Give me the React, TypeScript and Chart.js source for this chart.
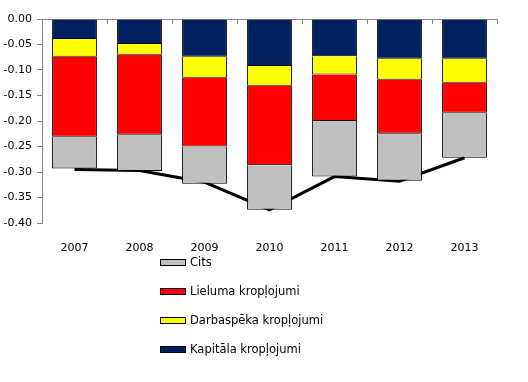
import React, { useEffect, useRef } from "react";
import { Chart, registerables } from "chart.js";

Chart.register(...registerables);

const years = ["2007", "2008", "2009", "2010", "2011", "2012", "2013"];
const kapitala = [-0.039, -0.049, -0.074, -0.092, -0.073, -0.078, -0.078];
const darbaspeka = [-0.035, -0.021, -0.041, -0.039, -0.036, -0.041, -0.047];
const lieluma = [-0.157, -0.157, -0.135, -0.156, -0.091, -0.106, -0.059];
const cits = [-0.062, -0.071, -0.073, -0.087, -0.109, -0.092, -0.088];
const total = [-0.295, -0.297, -0.32, -0.374, -0.309, -0.318, -0.272];

const seriesNames = ["Kapitāla kropļojumi", "Darbaspēka kropļojumi", "Lieluma kropļojumi", "Cits"];
const seriesData = [kapitala, darbaspeka, lieluma, cits];
const seriesColors = ["#002060", "#FFFF00", "#FF0000", "#C0C0C0"];

const FONT = "'DejaVu Sans', Verdana, sans-serif";
const AXIS = "#868686";

export default function App() {
  const ref = useRef<HTMLCanvasElement | null>(null);

  useEffect(() => {
    if (!ref.current) return;
    const chart = new Chart(ref.current, {
      type: "bar",
      data: {
        labels: years,
        datasets: [
          ...seriesData.map((d, i) => ({
            type: "bar" as const,
            label: seriesNames[i],
            data: d,
            backgroundColor: seriesColors[i],
            borderColor: "#000000",
            borderWidth: 1,
            stack: "bars",
            order: 1,
            barPercentage: 0.69,
            categoryPercentage: 1,
          })),
          {
            type: "line" as const,
            label: "Kopā",
            data: total,
            borderColor: "#000000",
            borderWidth: 3,
            pointRadius: 0,
            tension: 0,
            fill: false,
            stack: "line",
            order: 10,
          } as any,
        ],
      },
      options: {
        responsive: false,
        animation: false,
        layout: { padding: { left: 0, right: 31, top: 0, bottom: 0 } },
        plugins: { legend: { display: false }, tooltip: { enabled: false } },
        scales: {
          x: {
            position: "bottom",
            stacked: true,
            grid: { display: false },
            border: { display: false },
            ticks: { color: "#000", font: { family: FONT, size: 11 }, padding: 11 },
            afterFit: (s: any) => {
              s.height = 159;
            },
          },
          xTop: {
            type: "category",
            labels: years,
            position: "top",
            offset: true,
            grid: { display: true, offset: true, drawOnChartArea: false, drawTicks: true, tickLength: -5, color: AXIS },
            border: { display: true, color: AXIS, width: 1 },
            ticks: { display: false },
            afterFit: (s: any) => {
              s.height = 19;
            },
          },
          y: {
            stacked: true,
            min: -0.4,
            max: 0,
            grid: { display: true, drawOnChartArea: false, drawTicks: true, tickLength: 5, color: AXIS },
            border: { display: true, color: AXIS },
            ticks: {
              stepSize: 0.05,
              color: "#000",
              padding: 5,
              font: { family: FONT, size: 11 },
              callback: (v: any) => Number(v).toFixed(2),
            },
            afterFit: (s: any) => {
              s.width = 42;
            },
          },
        },
      },
    });
    return () => chart.destroy();
  }, []);

  const legendOrder = [3, 2, 1, 0];

  return (
    <div style={{ position: "fixed", left: 0, top: 0, width: 528, height: 382, background: "#fff" }}>
      <canvas ref={ref} width={528} height={382} style={{ position: "absolute", left: 0, top: 0, width: 528, height: 382 }} />
      {legendOrder.map((idx, row) => (
        <div
          key={seriesNames[idx]}
          style={{
            position: "absolute",
            left: 160,
            top: 254 + row * 29,
            height: 16,
            display: "flex",
            alignItems: "center",
            fontFamily: FONT,
            fontSize: 11.5,
            color: "#000",
            whiteSpace: "nowrap",
          }}
        >
          <span
            style={{
              display: "inline-block",
              width: 24,
              height: 5,
              border: "1px solid #000",
              background: seriesColors[idx],
              marginRight: 4,
            }}
          />
          <span>{seriesNames[idx]}</span>
        </div>
      ))}
    </div>
  );
}
